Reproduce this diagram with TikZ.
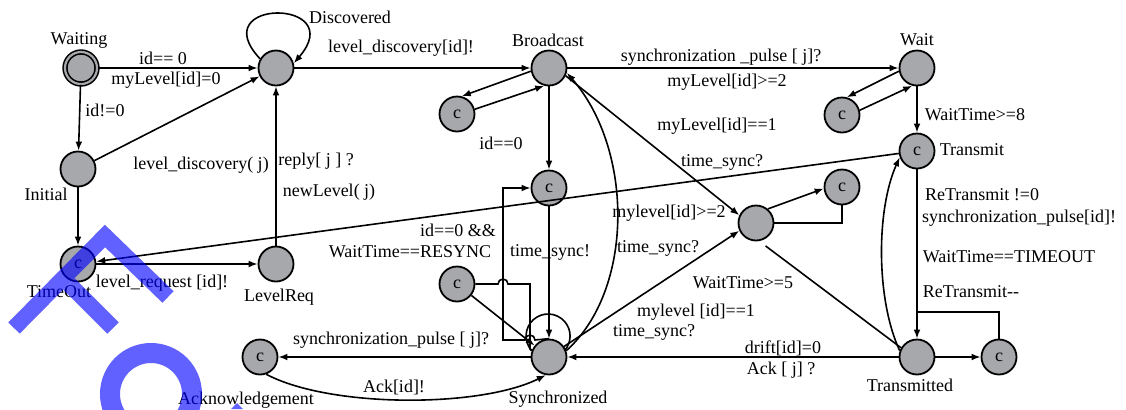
\documentclass[tikz,border=0pt]{standalone}
\usepackage{fontspec}
\setmainfont{Liberation Serif}
\usetikzlibrary{arrows.meta}
\definecolor{stategray}{RGB}{167,168,172}
\definecolor{markblue}{RGB}{0,0,255}
\begin{document}
\begin{tikzpicture}[x=0.5pt,y=-0.5pt,
  font=\fontsize{9}{10.8}\selectfont,
  state/.style={circle,draw=black,line width=0.9pt,fill=stategray,minimum size=17.5pt,inner sep=0pt},
  startstate/.style={state,minimum size=16pt,double=stategray,double distance=1.1pt,line width=0.8pt},
  edge/.style={line width=0.8pt},
  arr/.style={edge,-{Latex[length=4.5pt,width=3.4pt]}},
  lbl/.style={inner sep=0pt,text=black},
  wm/.style={draw=markblue,line cap=butt,line join=miter}]
\useasboundingbox (0,0) rectangle (1126,409);

% locations
\node[startstate] (W)  at (81,68)   {};
\node[state]      (D)  at (276,68)  {};
\node[state]      (B)  at (549,68)  {};
\node[state]      (Wt) at (917,68)  {};
\node[state]      (I)  at (78,169)  {};
\node[state]      (T)  at (78,264)  {c};
\node[state]      (LR) at (276,264) {};
\node[state]      (A)  at (260,357) {c};
\node[state]      (S)  at (549,357) {};
\node[state]      (C1) at (549,188) {c};
\node[state]      (RC) at (457,284) {c};
\node[state]      (M)  at (756,223) {};
\node[state]      (MC) at (842,187) {c};
\node[state]      (BC) at (457,114) {c};
\node[state]      (WC) at (842,115) {c};
\node[state]      (TR) at (917,151) {c};
\node[state]      (TD) at (917,357) {};
\node[state]      (TC) at (999,357) {c};

% location names
\node[lbl] (nW)  at (79,40)   {Waiting};
\node[lbl] (nD)  at (350,17)  {Discovered};
\node[lbl] (nB)  at (548,40)  {Broadcast};
\node[lbl] (nWt) at (917,40)  {Wait};
\node[lbl] (nI)  at (46,194)  {Initial};
\node[lbl] (nT)  at (59,292)  {TimeOut};
\node[lbl] (nLR) at (279,297) {LevelReq};
\node[lbl] (nA)  at (246,400) {Acknowledgement};
\node[lbl] (nS)  at (558,399) {Synchronized};
\node[lbl] (nTR) at (972,150) {Transmit};
\node[lbl] (nTD) at (910,385) {Transmitted};

% transitions
\draw[arr] (W) -- (D);
\draw[arr] (W) -- (I);
\draw[arr] (I) -- (D);
\draw[arr] (I) -- (T);
\draw[arr] (T) -- (LR);
\draw[arr] (LR) -- (D);
\draw[arr] (TR) -- (T);
\draw[arr] (D.150) .. controls (203,-2) and (350,-2) .. (D.15);
\draw[arr] (D) -- (B);
\draw[arr] (B) -- (Wt);
\draw[arr] (B.190) -- (BC.75);
\draw[arr] (BC.15) -- (B.255);
\draw[arr] (B) -- (C1);
\draw[arr] (Wt.190) -- (WC.75);
\draw[arr] (WC.15) -- (Wt.255);
\draw[arr] (Wt) -- (TR);
\draw[arr] (TR) -- (TD);
\draw[arr] (TD) -- (TC);
\coordinate (tj) at (917,312);
\draw[edge] (TC.north) |- (tj);
\draw[arr] (TD.160) .. controls (876,300) and (876,210) .. (TR.200);
\draw[arr] (TD) -- (S);
\draw[edge,shorten <=4pt] (M.-80) -- (TD.150);
\draw[arr] (M.50) -- (MC.185);
\draw[edge] (MC.south) |- (M.east);
\draw[arr] (B.-25) -- (M.155);
\draw[arr] (S.20) .. controls (634,290) and (634,150) .. (B.-15);
\draw[arr] (S.35) -- (M.205);
\draw[arr] (S) -- (A);
\draw[arr] (A.-70) .. controls (330,408) and (480,408) .. (S.-100);
\draw[arr] (C1) -- (S);
\draw[edge] (S.160) arc (138.1:401.9:22);
\draw[arr] (RC) -- (S);
\draw[edge] (RC.east) -- (498,284) arc (180:360:5) -- (530,284) -- (530,349) -- (S.160);
\draw[arr] (S.north) -- (535,340) arc (360:180:5) -- (503,340) -- (503,188) -- (C1.west);

% guards, synchronisations and updates
\node[lbl] (g1)  at (163,58)   {id== 0};
\node[lbl] (g2)  at (166,80)   {myLevel[id]=0};
\node[lbl] (g3)  at (105,110)  {id!=0};
\node[lbl] (g4)  at (201,165)  {level\_discovery( j)};
\node[lbl] (g5)  at (316,161)  {reply[ j ] ?};
\node[lbl] (g6)  at (329,192)  {newLevel( j)};
\node[lbl] (g7)  at (162,283)  {level\_request [id]!};
\node[lbl] (g8)  at (401,48)   {level\_discovery[id]!};
\node[lbl] (g9)  at (721,57)   {synchronization \_pulse [ j]?};
\node[lbl] (g10) at (727,82)   {myLevel[id]>=2};
\node[lbl] (g11) at (501,143)  {id==0};
\node[lbl] (g12) at (717,126)  {myLevel[id]==1};
\node[lbl] (g13) at (722,162)  {time\_sync?};
\node[lbl] (g14) at (975,115)  {WaitTime>=8};
\node[lbl] (g15) at (982,195)  {ReTransmit !=0};
\node[lbl] (g16) at (1019,218) {synchronization\_pulse[id]!};
\node[lbl] (g17) at (1009,257) {WaitTime==TIMEOUT};
\node[lbl] (g18) at (971,292)  {ReTransmit-{}-};
\node[lbl] (g19) at (669,213)  {mylevel[id]>=2};
\node[lbl] (g20) at (658,248)  {time\_sync?};
\node[lbl] (g21) at (743,283)  {WaitTime>=5};
\node[lbl] (g22) at (696,312)  {mylevel [id]==1};
\node[lbl] (g23) at (654,332)  {time\_sync?};
\node[lbl] (g24) at (783,348)  {drift[id]=0};
\node[lbl] (g25) at (781,370)  {Ack [ j] ?};
\node[lbl] (g26) at (458,230)  {id==0 \&\&};
\node[lbl] (g27) at (410,252)  {WaitTime==RESYNC};
\node[lbl] (g28) at (550,252)  {time\_sync!};
\node[lbl] (g29) at (391,340)  {synchronization\_pulse [ j]?};
\node[lbl] (g30) at (394,387)  {Ack[id]!};

% blue stamp over the lower left corner
\begin{scope}[opacity=0.62]
  \clip (0,0) rectangle (1126,409);
  \draw[wm,line width=8pt] (14,328) -- (105,236) -- (168,297);
  \draw[wm,line width=8pt] (69,284) -- (113,328);
  \draw[wm,line width=10pt] (151,394) circle (41);
  \fill[markblue] (231,409) -- (237,403) -- (243,409) -- cycle;
\end{scope}
\end{tikzpicture}
\end{document}
